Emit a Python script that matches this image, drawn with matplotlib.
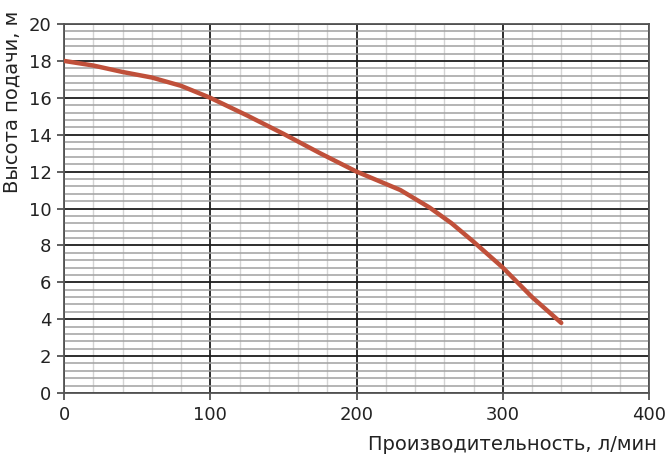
import matplotlib
matplotlib.use("Agg")
import matplotlib.pyplot as plt
from matplotlib.ticker import MultipleLocator

# pump curve
flow = [0, 20, 40, 60, 80, 100, 125, 150, 175, 200, 215, 230, 250, 265, 280, 290, 300, 310, 320, 330, 340]
head = [18.0, 17.75, 17.4, 17.1, 16.65, 16.0, 15.05, 14.05, 13.0, 12.0, 11.5, 11.0, 10.05, 9.2, 8.2, 7.5, 6.8, 6.0, 5.2, 4.5, 3.8]

xTicks = [0, 100, 200, 300, 400]
yTicks = [0, 2, 4, 6, 8, 10, 12, 14, 16, 18, 20]

plt.rcParams["font.family"] = ["DejaVu Sans"]

fig = plt.figure(figsize=(6.7, 4.71), dpi=100)
ax = fig.add_axes([64 / 670, 78 / 471, 585 / 670, 369 / 471])

ax.set_xlim(0, 400)
ax.set_ylim(0, 20)
ax.set_xticks(xTicks)
ax.set_yticks(yTicks)
ax.xaxis.set_minor_locator(MultipleLocator(20))
ax.yaxis.set_minor_locator(MultipleLocator(0.4))

ax.grid(which="major", color="#1e1e1e", linewidth=1.3)
ax.grid(which="minor", axis="y", color="#a0a0a0", linewidth=1.1)
ax.grid(which="minor", axis="x", color="#d4d4d4", linewidth=1.0)
ax.set_axisbelow(True)

for s in ax.spines.values():
    s.set_color("#555555")
    s.set_linewidth(1.3)

ax.tick_params(which="major", length=5, width=1.2, color="#444444",
               labelsize=13, labelcolor="#222222", pad=4)
ax.tick_params(which="minor", length=0)

ax.plot(flow, head, color="#c0503a", linewidth=3.2, solid_capstyle="round",
        solid_joinstyle="round", zorder=5)

fig.text(12 / 670, 1 - 102 / 471, "Высота подачи, м", rotation=90,
         ha="center", va="center", fontsize=14, color="#222222")
fig.text(368 / 670, 1 - 445 / 471, "Производительность, л/мин",
         ha="left", va="center", fontsize=14, color="#222222")

fig.savefig("out.png", dpi=100)
